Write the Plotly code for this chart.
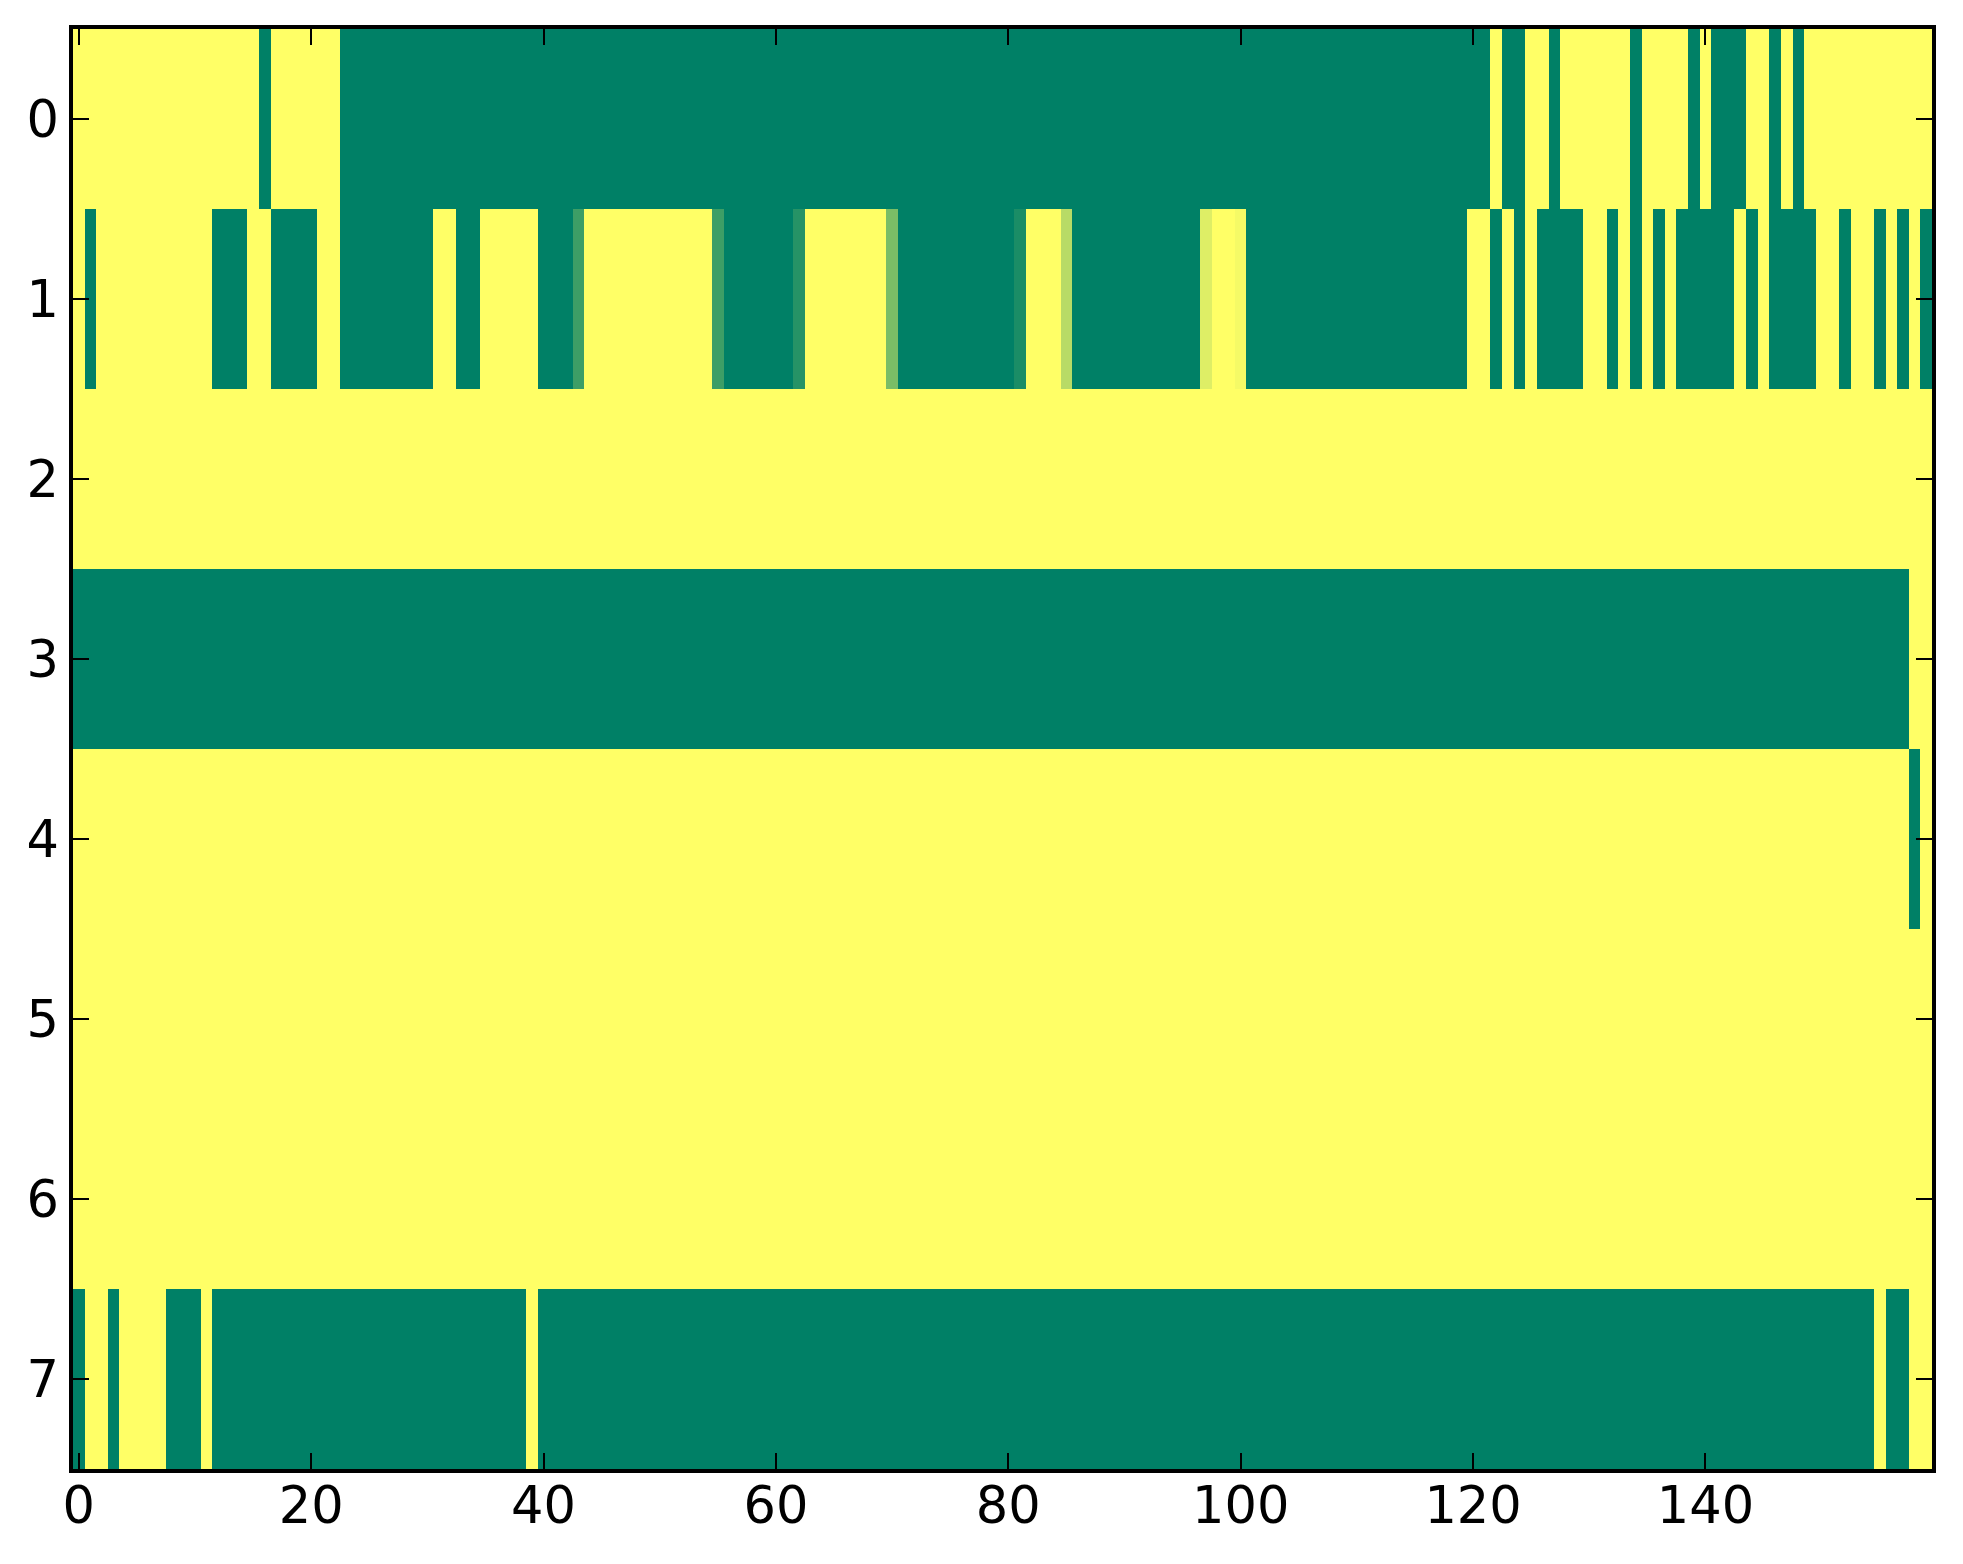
import plotly.graph_objects as go

# Each row is written as runs of (value, number of columns); 1 = yellow, 0 = green
row_0 = [(1, 16), (0, 1), (1, 6), (0, 99), (1, 1), (0, 2), (1, 2), (0, 1), (1, 6),
         (0, 1), (1, 4), (0, 1), (1, 1), (0, 3), (1, 2), (0, 1), (1, 1), (0, 1), (1, 11)]
row_1 = [(1, 1), (0, 1), (1, 10), (0, 3), (1, 2), (0, 4), (1, 2), (0, 8), (1, 2),
         (0, 2), (1, 5), (0, 3), (0.24, 1), (1, 11), (0.24, 1), (0, 6), (0.15, 1),
         (1, 7), (0.48, 1), (0, 10), (0.1, 1), (1, 3), (0.72, 1), (0, 11), (0.87, 1),
         (1, 2), (0.96, 1), (0, 19), (1, 2), (0, 1), (1, 1), (0, 1), (1, 1), (0, 4),
         (1, 2), (0, 1), (1, 1), (0, 1), (1, 1), (0, 1), (1, 1), (0, 5), (1, 1),
         (0, 1), (1, 1), (0, 4), (1, 2), (0, 1), (1, 2), (0, 1), (1, 1), (0, 1),
         (1, 1), (0, 1)]
row_2 = [(1, 160)]
row_3 = [(0, 158), (1, 2)]
row_4 = [(1, 158), (0, 1), (1, 1)]
row_5 = [(1, 160)]
row_6 = [(1, 160)]
row_7 = [(0, 1), (1, 2), (0, 1), (1, 4), (0, 3), (1, 1), (0, 27), (1, 1), (0, 115),
         (1, 1), (0, 2), (1, 2)]

rows = [row_0, row_1, row_2, row_3, row_4, row_5, row_6, row_7]
x_ticks = [0, 20, 40, 60, 80, 100, 120, 140]
y_ticks = [0, 1, 2, 3, 4, 5, 6, 7]


def expand(runs):
    out = []
    for value, count in runs:
        out += [value] * count
    return out


z = [expand(r) for r in rows]
n_cols = len(z[0])

# matplotlib "summer" colormap
summer = [[0, '#008066'], [1, '#ffff66']]

fig = go.Figure(go.Heatmap(
    z=z,
    colorscale=summer,
    zmin=0,
    zmax=1,
    showscale=False,
    hoverongaps=False,
))

axis_style = dict(
    showline=True,
    linecolor='black',
    linewidth=3.5,
    mirror='ticks',
    ticks='inside',
    ticklen=16,
    tickwidth=1.5,
    tickcolor='black',
    showgrid=False,
    zeroline=False,
    tickfont=dict(family='DejaVu Sans', size=51, color='black'),
)

fig.update_xaxes(range=[-0.5, n_cols - 0.5], tickvals=x_ticks,
                 ticklabelstandoff=-11, **axis_style)
fig.update_yaxes(range=[7.5, -0.5], tickvals=y_ticks, **axis_style)

# page body adds 8px, so the figure is 16px smaller than the window
fig.update_layout(
    width=1947,
    height=1548,
    margin=dict(l=65, r=23, t=21, b=87),
    paper_bgcolor='white',
    plot_bgcolor='white',
)

fig.write_html("out.html")
